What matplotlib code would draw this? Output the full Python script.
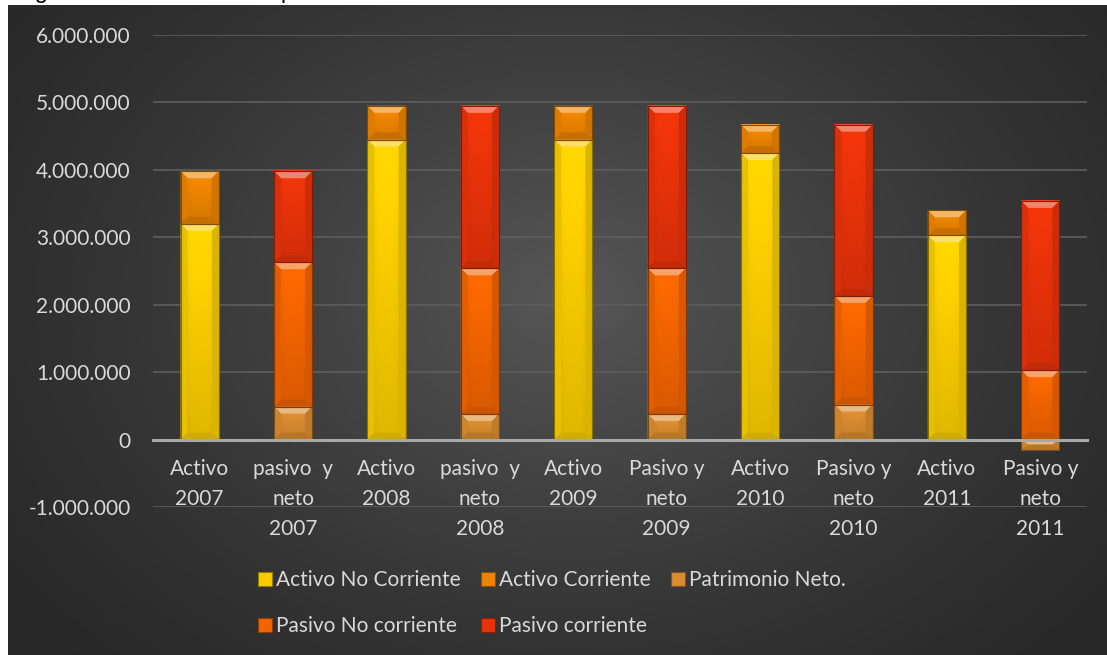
import numpy as np
import matplotlib
matplotlib.use('Agg')
import matplotlib.pyplot as plt
from matplotlib.patches import Polygon, Patch
from matplotlib.colors import to_rgb
from matplotlib.ticker import FuncFormatter

plt.rcParams['font.family'] = ['Lato', 'DejaVu Sans']

# Balance data per year (euros)
categorias = ['Activo\n2007', 'pasivo  y\nneto\n2007', 'Activo\n2008', 'pasivo  y\nneto\n2008',
              'Activo\n2009', 'Pasivo y\nneto\n2009', 'Activo\n2010', 'Pasivo y\nneto\n2010',
              'Activo\n2011', 'Pasivo y\nneto\n2011']
activo_no_corriente = [3200000, 0, 4450000, 0, 4450000, 0, 4250000, 0, 3030000, 0]
activo_corriente = [780000, 0, 500000, 0, 500000, 0, 420000, 0, 370000, 0]
patrimonio_neto = [0, 490000, 0, 380000, 0, 380000, 0, 520000, 0, -150000]
pasivo_no_corriente = [0, 2140000, 0, 2160000, 0, 2160000, 0, 1610000, 0, 1030000]
pasivo_corriente = [0, 1350000, 0, 2410000, 0, 2410000, 0, 2540000, 0, 2510000]

series = [
    ('Activo No Corriente', activo_no_corriente, '#F8CC00'),
    ('Activo Corriente', activo_corriente, '#EC8400'),
    ('Patrimonio Neto.', patrimonio_neto, '#D98C30'),
    ('Pasivo No corriente', pasivo_no_corriente, '#F26400'),
    ('Pasivo corriente', pasivo_corriente, '#E8330A'),
]

W, H = 1107, 655
fig = plt.figure(figsize=(W / 100, H / 100), dpi=100)
fig.patch.set_facecolor('white')

# caption of the page, only its lower edge shows above the chart
fig.text(15 / W, 1 + 1.5 / H, 'Figura 12. Estructura del patrimonio', fontsize=17,
         family='Liberation Sans', color='black', va='baseline', ha='left')

# dark radial background of the chart area
bg = fig.add_axes([8 / W, 0, 1 - 8 / W, (H - 5) / H])
bg.set_axis_off()
yy, xx = np.mgrid[0:650, 0:1099]
r = np.sqrt(((xx - 560) / 700.0) ** 2 + ((yy - 290) / 520.0) ** 2)
v = 0.16 + 0.18 * np.clip(1 - r, 0, 1) ** 1.3
bg.imshow(np.dstack([v, v, v]), aspect='auto', extent=[0, 1, 0, 1], origin='upper')
bg.set_xlim(0, 1)
bg.set_ylim(0, 1)

ax = fig.add_axes([153 / W, 1 - 507 / H, (1087 - 153) / W, (507 - 35) / H])
ax.set_facecolor('none')

x = np.arange(len(categorias))
pos_base = np.zeros(len(categorias))
neg_base = np.zeros(len(categorias))
contenedores = []
for nombre, valores, color in series:
    valores = np.array(valores, dtype=float)
    base = np.where(valores >= 0, pos_base, neg_base)
    cont = ax.bar(x, valores, width=0.41, bottom=base, color=color, label=nombre,
                  edgecolor='none', zorder=2)
    contenedores.append((cont, color))
    pos_base = pos_base + np.where(valores > 0, valores, 0)
    neg_base = neg_base + np.where(valores < 0, valores, 0)

ax.set_xlim(-0.5, len(categorias) - 0.5)
ax.set_ylim(-1000000, 6000000)

# bevel look on every segment
px_x = ax.bbox.width / 10.0
px_y = ax.bbox.height / 7000000.0


def mezcla(c, otro, t):
    c = np.array(to_rgb(c))
    return tuple(c * (1 - t) + np.array(otro) * t)


for cont, color in contenedores:
    base_rgb = np.array(to_rgb(color))
    for p in cont.patches:
        bb = p.get_bbox()
        x0, x1 = bb.x0, bb.x1
        y0, y1 = min(bb.y0, bb.y1), max(bb.y0, bb.y1)
        if y1 - y0 <= 0:
            continue
        t = np.linspace(0, 1, 60)[:, None]
        u = np.linspace(-1, 1, 30)[None, :]
        f = (1.07 - 0.17 * t) * (1 - 0.16 * np.abs(u) ** 4)
        img = np.clip(base_rgb[None, None, :] * f[:, :, None], 0, 1)
        ax.imshow(img, extent=[x0, x1, y0, y1], aspect='auto', origin='upper',
                  zorder=2.1, interpolation='bilinear')
        bx = 7 / px_x
        by = min(7 / px_y, (y1 - y0) / 2)
        top = [(x0, y1), (x1, y1), (x1 - bx, y1 - by), (x0 + bx, y1 - by)]
        bot = [(x0, y0), (x1, y0), (x1 - bx, y0 + by), (x0 + bx, y0 + by)]
        izq = [(x0, y0), (x0, y1), (x0 + bx, y1 - by), (x0 + bx, y0 + by)]
        der = [(x1, y0), (x1, y1), (x1 - bx, y1 - by), (x1 - bx, y0 + by)]
        ax.add_patch(Polygon(top, closed=True, color=mezcla(color, (1, 1, 1), 0.40), lw=0, zorder=2.2))
        ax.add_patch(Polygon(bot, closed=True, color=mezcla(color, (0, 0, 0), 0.16), lw=0, zorder=2.2))
        ax.add_patch(Polygon(izq, closed=True, color=mezcla(color, (0, 0, 0), 0.06), lw=0, zorder=2.2))
        ax.add_patch(Polygon(der, closed=True, color=mezcla(color, (0, 0, 0), 0.12), lw=0, zorder=2.2))
        ax.add_patch(plt.Rectangle((x0, y0), x1 - x0, y1 - y0, fill=False,
                                   ec=mezcla(color, (0, 0, 0), 0.45), lw=0.8, zorder=2.3))

ax.yaxis.grid(True, color='#5E5E5E', lw=1.2, zorder=0)
ax.set_axisbelow(True)
for s in ['top', 'right', 'left']:
    ax.spines[s].set_visible(False)
ax.spines['bottom'].set_position(('data', 0))
ax.spines['bottom'].set_color('#A8A8A8')
ax.spines['bottom'].set_linewidth(2.2)
ax.spines['bottom'].set_zorder(3)

# ticks set after the spine move, which rebuilds them
ax.set_xticks(x)
ax.set_xticklabels(categorias)
ax.yaxis.set_major_formatter(FuncFormatter(lambda v, _: f'{int(v):,}'.replace(',', '.')))
ax.set_yticks(np.arange(-1000000, 6000001, 1000000))
ax.tick_params(axis='x', length=0, pad=14, labelsize=15, labelcolor='#D9D9D9')
ax.tick_params(axis='y', length=0, pad=16, labelsize=15, labelcolor='#D9D9D9')
for lbl in ax.get_xticklabels():
    lbl.set_linespacing(1.62)

# legend filled row by row
h = [Patch(facecolor=c, edgecolor=mezcla(c, (0, 0, 0), 0.4), lw=0.8) for _, _, c in series]
lab = [n for n, _, _ in series]
orden = [0, 3, 1, 4, 2]
fig.legend([h[i] for i in orden], [lab[i] for i in orden], ncol=3, loc='upper left',
           bbox_to_anchor=(258 / W, 1 - 570 / H), frameon=False, fontsize=15,
           labelcolor='#D9D9D9', handlelength=0.65, handleheight=0.65, handletextpad=0.2,
           columnspacing=1.0, labelspacing=1.25, borderpad=0, borderaxespad=0)

fig.savefig('out.png', dpi=100)
